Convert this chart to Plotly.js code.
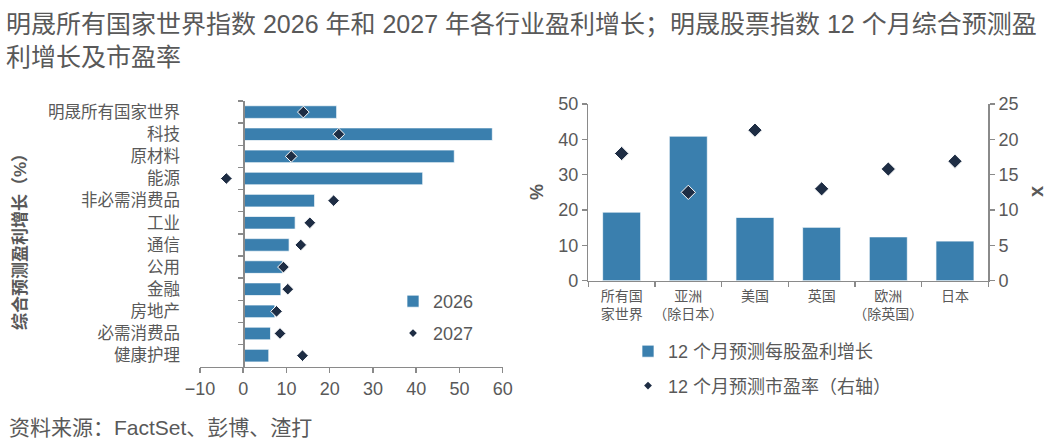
<!DOCTYPE html>
<html>
<head>
<meta charset="utf-8">
<script src="https://cdn.plot.ly/plotly-3.0.1.min.js"></script>
<style>
html,body{margin:0;padding:0;background:#fff;}
#chart{width:1064px;height:448px;}
</style>
</head>
<body>
<div id="chart"></div>
<script>
// ---- data ----
const sectors = ['明晟所有国家世界','科技','原材料','能源','非必需消费品','工业','通信','公用','金融','房地产','必需消费品','健康护理'];
const growth2026 = [21.6, 57.6, 48.8, 41.5, 16.5, 12.0, 10.6, 9.1, 8.7, 7.3, 6.3, 5.9];
const growth2027 = [13.9, 22.1, 11.1, -3.9, 20.9, 15.4, 13.3, 9.3, 10.3, 7.7, 8.5, 13.7];
const regions = ['所有国<br>家世界', '亚洲<br>（除日本）', '美国', '英国', '欧洲<br>（除英国）', '日本'];
const epsGrowth12m = [19.4, 40.9, 17.9, 15.1, 12.4, 11.2];
const pe12m = [18.0, 12.5, 21.3, 13.0, 15.8, 16.9];
const leftXTicks = [-10, 0, 10, 20, 30, 40, 50, 60];

// ---- styles ----
const FONT = '"Liberation Sans", Arial, "Noto Sans CJK SC", sans-serif';
const TXT = '#595959';
const BAR = '#3a7fae';
const DIA = '#1e2d44';
const AX = '#8a8a8a';
const W = 1064, H = 448;
const px = v => v / W;
const py = v => (H - v) / H;
const nSec = sectors.length;
const nReg = regions.length;

const traces = [
  {type:'bar', orientation:'h', name:'2026', y:sectors, x:growth2026, xaxis:'x', yaxis:'y',
   marker:{color:BAR, line:{color:'rgba(255,255,255,0.7)', width:1}}, legend:'legend', legendgroup:'a', showlegend:true},
  {type:'scatter', mode:'markers', name:'2027', y:sectors, x:growth2027, xaxis:'x', yaxis:'y',
   marker:{symbol:'diamond', size:9, color:DIA, line:{color:'#ffffff', width:1}}, showlegend:false},
  {type:'scatter', mode:'markers', name:'2027', x:[null], y:[null], xaxis:'x', yaxis:'y',
   marker:{symbol:'diamond', size:6, color:DIA}, legend:'legend', legendgroup:'b', showlegend:true},

  {type:'bar', name:'12 个月预测每股盈利增长', x:regions, y:epsGrowth12m, xaxis:'x2', yaxis:'y2',
   marker:{color:BAR, line:{color:'rgba(255,255,255,0.7)', width:1}}, legend:'legend2', legendgroup:'c', showlegend:true},
  {type:'scatter', mode:'markers', name:'12 个月预测市盈率（右轴）', x:regions, y:pe12m, xaxis:'x2', yaxis:'y3',
   marker:{symbol:'diamond', size:11, color:DIA, line:{color:'#ffffff', width:1}}, showlegend:false},
  {type:'scatter', mode:'markers', name:'12 个月预测市盈率（右轴）', x:[null], y:[null], xaxis:'x2', yaxis:'y3',
   marker:{symbol:'diamond', size:6, color:DIA}, legend:'legend2', legendgroup:'d', showlegend:true}
];

const axBase = {showgrid:false, zeroline:false, showline:true, linecolor:AX, linewidth:1.5,
  ticks:'outside', tickcolor:AX, tickwidth:1.5, ticklen:5, fixedrange:true};

const layout = {
  width:W, height:H,
  margin:{l:0, r:0, t:0, b:0},
  paper_bgcolor:'#fff', plot_bgcolor:'rgba(0,0,0,0)',
  font:{family:FONT, color:TXT},
  showlegend:true,
  bargap:0.43,
  xaxis: Object.assign({}, axBase, {domain:[px(200), px(502.7)], range:[-10, 60], tickvals:leftXTicks,
    anchor:'y', tickfont:{size:18, color:TXT}}),
  yaxis: Object.assign({}, axBase, {domain:[py(366.7), py(101)], type:'category', range:[nSec - 0.5, -0.5],
    anchor:'free', position:px(243.3), tickson:'boundaries', ticklabelstandoff:60,
    tickfont:{size:16.5, color:TXT}}),
  xaxis2: Object.assign({}, axBase, {domain:[px(588.3), px(988.3)], type:'category', anchor:'y2',
    range:[-0.5, nReg - 0.5], tickangle:0, tickson:'boundaries', ticklabelstandoff:2,
    tickfont:{size:14, color:TXT}}),
  yaxis2: Object.assign({}, axBase, {domain:[py(280.7), py(104)], range:[0, 50], dtick:10, anchor:'x2',
    tickfont:{size:18, color:TXT}}),
  yaxis3: Object.assign({}, axBase, {range:[0, 25], dtick:5, overlaying:'y2', side:'right', anchor:'x2',
    tickfont:{size:18, color:TXT}}),
  legend:{x:px(393), xanchor:'left', y:py(283), yanchor:'top', traceorder:'grouped', tracegroupgap:5.5,
    bgcolor:'rgba(0,0,0,0)', font:{size:18, color:TXT, family:FONT}},
  legend2:{x:px(628), xanchor:'left', y:py(333), yanchor:'top', traceorder:'grouped', tracegroupgap:8,
    bgcolor:'rgba(0,0,0,0)', font:{size:18, color:TXT, family:FONT}},
  annotations:[
    {text:'明晟所有国家世界指数 2026 年和 2027 年各行业盈利增长；明晟股票指数 12 个月综合预测盈<br>利增长及市盈率',
     xref:'paper', yref:'paper', x:px(4), y:py(8), xanchor:'left', yanchor:'top', align:'left',
     showarrow:false, font:{size:25, color:TXT}},
    {text:'<b>综合预测盈利增长（%）</b>', xref:'paper', yref:'paper', x:px(20), y:py(238),
     xanchor:'center', yanchor:'middle', textangle:-90, showarrow:false, font:{size:17, color:TXT}},
    {text:'<b>%</b>', xref:'paper', yref:'paper', x:px(537), y:py(192),
     xanchor:'center', yanchor:'middle', textangle:-90, showarrow:false, font:{size:18, color:TXT}},
    {text:'<b>x</b>', xref:'paper', yref:'paper', x:px(1036), y:py(192),
     xanchor:'center', yanchor:'middle', textangle:-90, showarrow:false, font:{size:20, color:TXT}},
    {text:'资料来源：FactSet、彭博、渣打', xref:'paper', yref:'paper', x:px(7), y:py(427),
     xanchor:'left', yanchor:'middle', showarrow:false, font:{size:21, color:TXT}}
  ]
};

Plotly.newPlot('chart', traces, layout, {displayModeBar:false, staticPlot:true});
</script>
</body>
</html>
